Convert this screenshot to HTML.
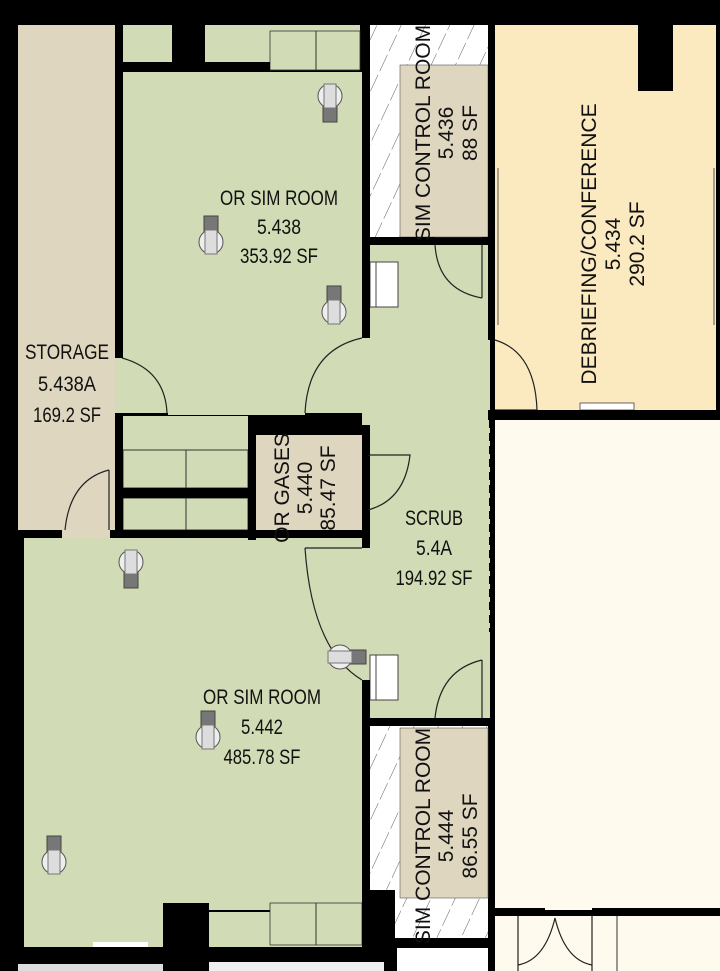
<!DOCTYPE html>
<html><head><meta charset="utf-8"><style>
html,body{margin:0;padding:0;background:#000;}
svg{display:block}
.n{font-family:"Liberation Sans",sans-serif;font-size:21px;fill:#111;text-anchor:middle}
.r{font-family:"Liberation Sans",sans-serif;font-size:21px;fill:#111;text-anchor:middle}
</style></head><body>
<svg width="720" height="971" viewBox="0 0 720 971" xmlns="http://www.w3.org/2000/svg">
<defs>
<pattern id="h" width="22" height="22" patternUnits="userSpaceOnUse" patternTransform="rotate(25)">
<rect width="22" height="22" fill="#fff"/><line x1="0" y1="0" x2="0" y2="22" stroke="#333" stroke-width="0.8" stroke-dasharray="14 4"/>
</pattern>
<g id="ch"><rect x="-7" y="-26" width="14" height="17" fill="#777" stroke="#444"/><circle cx="0" cy="0" r="12" fill="#eee" stroke="#555"/><rect x="-6" y="-12" width="12" height="24" fill="#ddd" stroke="#777"/></g>
</defs>
<rect width="720" height="971" fill="#000"/>
<rect x="529" y="3" width="90" height="18" fill="#fff"/><rect x="534" y="8" width="80" height="8" fill="#ccc"/>
<rect x="18" y="25" width="97" height="505" fill="#dfd6c0"/>
<rect x="122" y="72" width="240" height="343" fill="#d1dbb5"/>
<rect x="123" y="25" width="49" height="37" fill="#d1dbb5"/>
<rect x="205" y="25" width="155" height="37" fill="#d1dbb5"/>
<rect x="270" y="31" width="90" height="39" fill="#d1dbb5" stroke="#333" stroke-width="0.8"/><line x1="316" y1="31" x2="316" y2="70" stroke="#333"/>
<rect x="370" y="25" width="118" height="212" fill="url(#h)"/>
<rect x="400" y="65" width="88" height="172" fill="#dfd6c0" stroke="#555" stroke-width="0.6"/>
<line x1="366" y1="105" x2="366" y2="232" stroke="#fff" stroke-width="2"/>
<rect x="495" y="25" width="221" height="387" fill="#fbe9c0"/>
<rect x="638" y="25" width="35" height="66" fill="#000"/>
<rect x="580" y="403" width="54" height="7" fill="#fff" stroke="#444" stroke-width="0.8"/>
<line x1="498" y1="168" x2="498" y2="325" stroke="#555"/><line x1="714" y1="168" x2="714" y2="325" stroke="#555"/>
<rect x="495" y="420" width="225" height="490" fill="#fefbee"/>
<rect x="495" y="916" width="225" height="55" fill="#fefbee"/>
<rect x="370" y="245" width="120" height="473" fill="#d1dbb5"/>
<rect x="362" y="338" width="8" height="92" fill="#d1dbb5"/>
<rect x="362" y="548" width="8" height="132" fill="#d1dbb5"/>
<rect x="488" y="410" width="2" height="222" fill="#d1dbb5"/>
<line x1="490" y1="420" x2="490" y2="632" stroke="#000" stroke-width="2" stroke-dasharray="8 5"/>
<rect x="490" y="632" width="5" height="339" fill="#000"/>
<rect x="115" y="358" width="8" height="55" fill="#d1dbb5"/>
<rect x="123" y="416" width="125" height="34" fill="#d1dbb5"/>
<rect x="123" y="450" width="125" height="38" fill="#d1dbb5" stroke="#333"/><rect x="123" y="498" width="125" height="32" fill="#d1dbb5" stroke="#333"/>
<line x1="186" y1="450" x2="186" y2="530" stroke="#333"/>
<rect x="123" y="413" width="45" height="3" fill="#000"/><rect x="305" y="413" width="57" height="3" fill="#000"/>
<rect x="256" y="435" width="106" height="95" fill="#dfd6c0"/>
<rect x="24" y="538" width="338" height="372" fill="#d1dbb5"/>
<rect x="24" y="910" width="139" height="37" fill="#d1dbb5"/>
<rect x="93" y="942" width="55" height="6" fill="#fff"/>
<rect x="209" y="912" width="153" height="35" fill="#d1dbb5"/>
<rect x="270" y="903" width="92" height="42" fill="#d1dbb5" stroke="#333" stroke-width="0.8"/><line x1="316" y1="903" x2="316" y2="945" stroke="#333"/>
<rect x="62" y="530" width="53" height="8" fill="#dfd6c0"/>
<rect x="370" y="726" width="118" height="212" fill="url(#h)"/>
<rect x="370" y="890" width="25" height="48" fill="#000"/>
<rect x="400" y="728" width="88" height="170" fill="#dfd6c0" stroke="#555" stroke-width="0.6"/>
<rect x="397" y="948" width="91" height="23" fill="#fff"/>
<rect x="209" y="962" width="175" height="9" fill="#eee"/><rect x="18" y="964" width="180" height="7" fill="#ddd"/>
<rect x="370" y="262" width="28" height="45" fill="#fff" stroke="#444"/><line x1="376" y1="262" x2="376" y2="307" stroke="#444"/>
<rect x="370" y="655" width="28" height="45" fill="#fff" stroke="#444"/><line x1="376" y1="655" x2="376" y2="700" stroke="#444"/>
<rect x="495" y="908" width="50" height="8" fill="#000"/><rect x="592" y="908" width="128" height="8" fill="#000"/>
<line x1="617" y1="916" x2="617" y2="971" stroke="#333"/>
<g fill="none" stroke="#222" stroke-width="1.2">
<path d="M518 971 L518 916 M592 971 L592 916"/>
<path d="M518 965 Q545 960 555 918 Q565 960 592 965"/>
<path d="M122 358 Q165 370 167 413"/>
<path d="M362 338 Q308 350 305 413"/>
<path d="M435 245 Q438 290 482 298 M482 245 L482 298"/>
<path d="M495 340 Q535 352 537 410 M495 410 L537 410"/>
<path d="M368 455 L410 455 Q405 500 368 510"/>
<path d="M109 470 Q70 480 65 530 M109 470 L109 530"/>
<path d="M305 548 L362 548 M305 548 Q312 650 362 680"/>
<path d="M482 660 Q440 670 435 718 M482 660 L482 718"/>
</g>
<g fill="#000">
<rect x="0" y="0" width="720" height="25"/>
<rect x="0" y="25" width="18" height="946"/>
<rect x="115" y="25" width="8" height="333"/>
<rect x="115" y="413" width="8" height="125"/>
<rect x="122" y="62" width="148" height="10"/>
<rect x="172" y="25" width="33" height="37"/>
<rect x="362" y="25" width="8" height="313"/>
<rect x="362" y="237" width="73" height="8"/>
<rect x="482" y="237" width="13" height="8"/>
<rect x="488" y="25" width="7" height="315"/>
<rect x="488" y="410" width="232" height="10"/>
<rect x="716" y="25" width="4" height="385"/>
<rect x="123" y="488" width="125" height="10"/>
<rect x="248" y="425" width="120" height="10"/>
<rect x="248" y="425" width="8" height="115"/>
<rect x="362" y="425" width="8" height="30"/>
<rect x="362" y="510" width="8" height="38"/>
<rect x="18" y="530" width="44" height="8"/>
<rect x="110" y="530" width="258" height="8"/>
<rect x="362" y="680" width="8" height="282"/>
<rect x="362" y="718" width="73" height="8"/>
<rect x="482" y="718" width="8" height="8"/>
<rect x="163" y="903" width="46" height="68"/>
<rect x="0" y="947" width="397" height="15"/>
<rect x="395" y="938" width="95" height="10"/>
</g>
<use href="#ch" transform="translate(330,96) rotate(180)"/>
<use href="#ch" transform="translate(211,242)"/>
<use href="#ch" transform="translate(334,312)"/>
<use href="#ch" transform="translate(131,562) rotate(180)"/>
<use href="#ch" transform="translate(340,657) rotate(90)"/>
<use href="#ch" transform="translate(208,737)"/>
<use href="#ch" transform="translate(54,862)"/>
<g class="n">
<text x="279" y="205" textLength="118" lengthAdjust="spacingAndGlyphs">OR SIM ROOM</text>
<text x="279" y="234" textLength="44" lengthAdjust="spacingAndGlyphs">5.438</text>
<text x="279" y="263" textLength="78" lengthAdjust="spacingAndGlyphs">353.92 SF</text>
<text x="67" y="359" textLength="84" lengthAdjust="spacingAndGlyphs">STORAGE</text>
<text x="67" y="391" textLength="58" lengthAdjust="spacingAndGlyphs">5.438A</text>
<text x="67" y="422" textLength="68" lengthAdjust="spacingAndGlyphs">169.2 SF</text>
<text x="434" y="525" textLength="58" lengthAdjust="spacingAndGlyphs">SCRUB</text>
<text x="434" y="555" textLength="36" lengthAdjust="spacingAndGlyphs">5.4A</text>
<text x="434" y="585" textLength="77" lengthAdjust="spacingAndGlyphs">194.92 SF</text>
<text x="262" y="704" textLength="118" lengthAdjust="spacingAndGlyphs">OR SIM ROOM</text>
<text x="262" y="734" textLength="42" lengthAdjust="spacingAndGlyphs">5.442</text>
<text x="262" y="764" textLength="77" lengthAdjust="spacingAndGlyphs">485.78 SF</text>
</g>
<g class="r">
<text transform="translate(430,133) rotate(-90)">SIM CONTROL ROOM</text>
<text transform="translate(453,133) rotate(-90)">5.436</text>
<text transform="translate(477,133) rotate(-90)">88 SF</text>
<text transform="translate(596,244) rotate(-90)">DEBRIEFING/CONFERENCE</text>
<text transform="translate(620,244) rotate(-90)">5.434</text>
<text transform="translate(644,244) rotate(-90)">290.2 SF</text>
<text transform="translate(289,488) rotate(-90)">OR GASES</text>
<text transform="translate(312,488) rotate(-90)">5.440</text>
<text transform="translate(335,488) rotate(-90)">85.47 SF</text>
<text transform="translate(430,836) rotate(-90)">SIM CONTROL ROOM</text>
<text transform="translate(453,836) rotate(-90)">5.444</text>
<text transform="translate(477,836) rotate(-90)">86.55 SF</text>
</g>
</svg>
</body></html>
